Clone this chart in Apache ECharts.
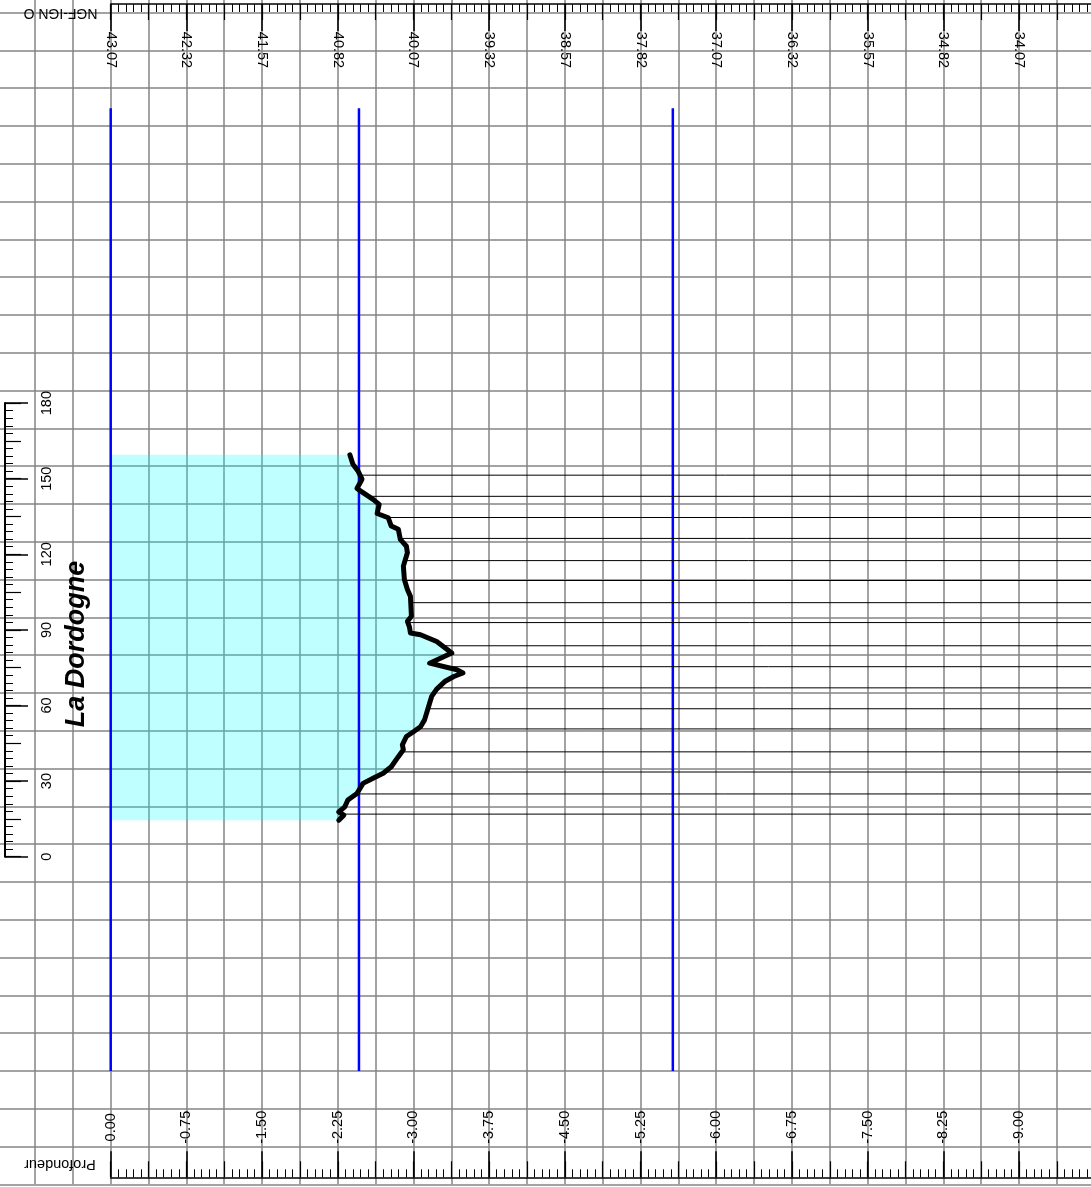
<!DOCTYPE html>
<html><head><meta charset="utf-8">
<script src="https://cdn.jsdelivr.net/npm/echarts@6/dist/echarts.min.js"></script>
<style>html,body{margin:0;padding:0;background:#fff}#c{width:1091px;height:1187px}</style>
</head><body><div id="c"></div>
<script>
// ---- data ----
const refElevation = 43.07; // NGF-IGN O at depth 0
const profileDepth = [-2.26,-2.31,-2.26,-2.32,-2.35,-2.44,-2.50,-2.60,-2.70,-2.78,-2.85,-2.90,-2.89,-2.93,-3.00,-3.07,-3.11,-3.15,-3.18,-3.23,-3.31,-3.40,-3.49,-3.43,-3.16,-3.38,-3.23,-3.07,-2.97,-2.96,-2.94,-2.98,-2.97,-2.94,-2.91,-2.90,-2.94,-2.93,-2.87,-2.85,-2.78,-2.75,-2.64,-2.66,-2.60,-2.50,-2.44,-2.49,-2.45,-2.40,-2.37];
const profileDist = [14.5,16.5,17.8,19.8,22.5,25.1,29.1,31.1,33.1,35.7,39.7,42.4,44.4,47.7,49.6,51.6,54.3,59.6,63.6,66.5,69.5,71.5,72.9,74.2,76.8,80.8,85.4,88.1,88.8,91.2,93.4,95.4,103.3,106.0,110.0,115.3,120.6,123.2,125.9,129.9,131.2,134.5,136.2,139.8,141.8,144.5,146.1,149.8,153.1,155.7,159.5];
const verticalDist = [16.9,24.9,33.6,41.6,50.7,58.7,67.0,75.4,83.7,92.9,100.8,109.6,117.5,126.3,134.6,143.0,151.4];
const verticalStartDepth = [-2.30,-2.44,-2.71,-2.89,-3.03,-3.14,-3.24,-3.31,-3.28,-2.94,-2.97,-2.91,-2.92,-2.87,-2.75,-2.55,-2.46];
const blueLineDepth = [0, -2.46, -5.57];
const blueLineDist = [-85, 297];
const depthRange = [-9.75, 1.125];
const distRange = [-130, 350];
const rulerDistRange = [0, 180];

// ---- layout ----
const X0 = 110.7, PXD = 100.92, Y0 = 856.7, PXS = 2.52;
const FONT = '"Liberation Sans", Arial, sans-serif';
const GRID_COLOR = '#858585';

const chart = echarts.init(document.getElementById('c'), null, {renderer:'canvas'});
const gridMainLeft = X0 - depthRange[1]*PXD;
const gridMainTop = Y0 - distRange[1]*PXS;
const lbl = {fontFamily: FONT, fontSize: 14.5, color: '#000'};
const hidden = {show:false};
const noLine = {show:false, onZero:false};

const option = {
  backgroundColor: '#fff',
  animation: false,
  grid: [
    {left: gridMainLeft, top: gridMainTop, width: (depthRange[1]-depthRange[0])*PXD, height: (distRange[1]-distRange[0])*PXS, outerBoundsMode:'none', containLabel:false},
    {left: 5, top: Y0 - rulerDistRange[1]*PXS, width: 100, height: (rulerDistRange[1]-rulerDistRange[0])*PXS, outerBoundsMode:'none', containLabel:false},
    {left: X0, top: 1177.3 - 60, width: 9.75*PXD, height: 60, outerBoundsMode:'none', containLabel:false},
    {left: X0, top: 4, width: 9.75*PXD, height: 60, outerBoundsMode:'none', containLabel:false}
  ],
  xAxis: [
    {gridIndex:0, type:'value', min: depthRange[0], max: depthRange[1], inverse:true, interval:0.375,
     axisLine:noLine, axisTick:hidden, axisLabel:hidden, splitLine:{show:true, lineStyle:{color:GRID_COLOR, width:1.5}}},
    {gridIndex:2, type:'value', position:'bottom', min:-9.75, max:0, inverse:true, interval:0.75,
     axisLine:{show:true, onZero:false, lineStyle:{color:'#000', width:1.5}},
     axisTick:{show:true, inside:true, length:26, lineStyle:{color:'#000', width:1.5}},
     axisLabel:Object.assign({show:true, inside:true, rotate:90, margin:50, align:'center', verticalAlign:'middle', showMinLabel:false, formatter:v=>v.toFixed(2)}, lbl),
     splitLine:hidden},
    {gridIndex:2, type:'value', position:'bottom', min:-9.75, max:0, inverse:true, interval:0.375,
     axisLine:noLine, axisLabel:hidden, splitLine:hidden,
     axisTick:{show:true, inside:true, length:16, lineStyle:{color:'#000', width:1.2}},
     minorTick:{show:true, splitNumber:5, length:8, lineStyle:{color:'#000', width:1}}},
    {gridIndex:3, type:'value', position:'top', min:-9.75, max:0, inverse:true, interval:0.75,
     axisLine:{show:true, onZero:false, lineStyle:{color:'#000', width:1.5}},
     axisTick:{show:true, inside:true, length:27, lineStyle:{color:'#000', width:1.5}},
     axisLabel:Object.assign({show:true, inside:true, rotate:90, margin:46, align:'center', verticalAlign:'middle', showMinLabel:false, formatter:v=>(refElevation+v).toFixed(2)}, lbl),
     splitLine:hidden},
    {gridIndex:3, type:'value', position:'top', min:-9.75, max:0, inverse:true, interval:0.375,
     axisLine:noLine, axisLabel:hidden, splitLine:hidden,
     axisTick:{show:true, inside:true, length:16, lineStyle:{color:'#000', width:1.2}},
     minorTick:{show:true, splitNumber:5, length:8, lineStyle:{color:'#000', width:1}}},
    {gridIndex:1, type:'value', show:false, min:0, max:1}
  ],
  yAxis: [
    {gridIndex:0, type:'value', min: distRange[0], max: distRange[1], show:false},
    {gridIndex:0, type:'value', min: distRange[0]-5, max: distRange[1]-5, interval:15,
     axisLine:noLine, axisTick:hidden, axisLabel:hidden, splitLine:{show:true, lineStyle:{color:GRID_COLOR, width:1.5}}},
    {gridIndex:1, type:'value', position:'left', min:rulerDistRange[0], max:rulerDistRange[1], interval:30,
     axisLine:{show:true, onZero:false, lineStyle:{color:'#000', width:2}},
     axisTick:{show:true, inside:true, length:23, lineStyle:{color:'#000', width:1.5}},
     axisLabel:Object.assign({show:true, inside:true, rotate:90, margin:42, align:'center', verticalAlign:'middle'}, lbl),
     splitLine:hidden},
    {gridIndex:1, type:'value', position:'left', min:rulerDistRange[0], max:rulerDistRange[1], interval:15,
     axisLine:noLine, axisLabel:hidden, splitLine:hidden,
     axisTick:{show:true, inside:true, length:16, lineStyle:{color:'#000', width:1.2}},
     minorTick:{show:true, splitNumber:5, length:8, lineStyle:{color:'#000', width:1}}},
    {gridIndex:2, type:'value', show:false, min:0, max:1},
    {gridIndex:3, type:'value', show:false, min:0, max:1}
  ],
  graphic: [
    {type:'text', x:77, y:644, rotation:Math.PI/2, z:100,
     style:{text:'La Dordogne', font:'italic bold 27px ' + FONT, textAlign:'center', textVerticalAlign:'middle', fill:'#000'}},
    {type:'text', x:60.5, y:12.5, rotation:Math.PI, z:100,
     style:{text:'NGF-IGN O', font:'14px ' + FONT, textAlign:'center', textVerticalAlign:'middle', fill:'#000'}},
    {type:'text', x:60, y:1164, rotation:Math.PI, z:100,
     style:{text:'Profondeur', font:'14.5px ' + FONT, textAlign:'center', textVerticalAlign:'middle', fill:'#000'}}
  ],
  series: [
    {type:'custom', xAxisIndex:0, yAxisIndex:0, z:1, silent:true,
     data: profileDepth.map((d,i)=>[d, profileDist[i]]),
     renderItem: (params, api) => {
       if (params.dataIndex !== 0) return null;
       const pts = [api.coord([0, profileDist[0]])];
       for (let i=0;i<profileDepth.length;i++) pts.push(api.coord([profileDepth[i], profileDist[i]]));
       pts.push(api.coord([0, profileDist[profileDist.length-1]]));
       return {type:'polygon', shape:{points:pts}, style:{fill:'rgba(0,255,255,0.25)', stroke:null}};
     }},
    ...blueLineDepth.map(d => ({type:'line', xAxisIndex:0, yAxisIndex:0, z:2, silent:true, symbol:'none',
      data: blueLineDist.map(s=>[d, s]), lineStyle:{color:'#0000ff', width:2.5}})),
    {type:'custom', xAxisIndex:0, yAxisIndex:0, z:3, silent:true,
     data: verticalDist.map((s,i)=>[verticalStartDepth[i], s]),
     renderItem: (params, api) => {
       const a = api.coord([api.value(0), api.value(1)]);
       const b = api.coord([depthRange[0], api.value(1)]);
       return {type:'line', shape:{x1:a[0], y1:a[1], x2:b[0], y2:b[1]}, style:{stroke:'#000', lineWidth:1}};
     }},
    {type:'line', xAxisIndex:0, yAxisIndex:0, z:4, silent:true, symbol:'none',
     data: profileDepth.map((d,i)=>[d, profileDist[i]]),
     lineStyle:{color:'#000', width:5, join:'round', cap:'round'}}
  ]
};
chart.setOption(option);
</script></body></html>
